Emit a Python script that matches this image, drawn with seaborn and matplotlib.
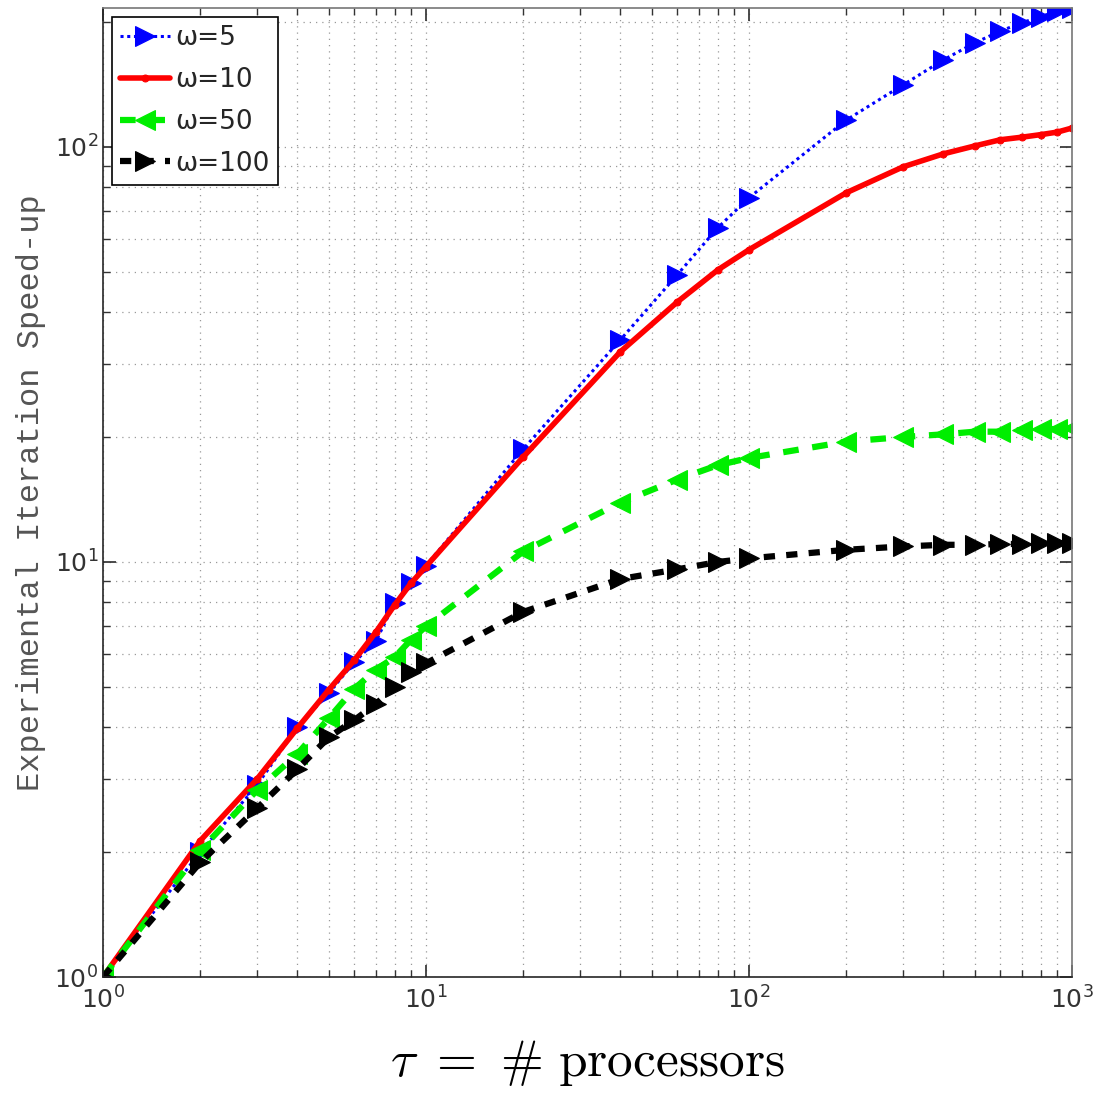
import matplotlib
matplotlib.use("Agg")
import matplotlib.pyplot as plt
import numpy as np
import seaborn as sns

# Datos (speed-up vs. número de procesadores)
tau = [1, 2, 3, 4, 5, 6, 7, 8, 9, 10, 20, 40, 60, 80, 100,
       200, 300, 400, 500, 600, 700, 800, 900, 1000]
speedup_w5 = [1, 2.0, 2.9, 4.0, 4.83, 5.74, 6.45, 7.95, 8.9, 9.8, 18.7, 34.3, 49.2, 63.8, 75.4,
              116, 141, 162, 178, 190, 199, 206, 212, 216]
speedup_w10 = [1, 2.13, 3.0, 3.98, 4.92, 5.8, 6.78, 7.88, 8.9, 9.75, 17.9, 32.1, 42.3, 50.5, 56.5,
               77.5, 89.5, 96.2, 100.5, 104, 105.5, 107, 108.5, 111]
speedup_w50 = [1, 2.02, 2.82, 3.45, 4.2, 4.95, 5.5, 5.9, 6.5, 7.0, 10.6, 13.9, 15.8, 17.1, 17.8,
               19.5, 20.0, 20.3, 20.6, 20.6, 20.8, 20.9, 20.9, 21.0]
speedup_w100 = [1, 1.89, 2.55, 3.17, 3.78, 4.16, 4.55, 5.0, 5.42, 5.7, 7.58, 9.1, 9.6, 10.0, 10.2,
                10.7, 10.9, 11.0, 11.0, 11.05, 11.05, 11.1, 11.1, 11.1]
labels = ["ω=5", "ω=10", "ω=50", "ω=100"]

sns.set_theme(style="ticks")
plt.rcParams["font.family"] = ["DejaVu Sans"]
plt.rcParams["axes.linewidth"] = 1.2

fig = plt.figure(figsize=(10.95, 10.93), dpi=100)
ax = fig.add_axes([0.094, 0.106, 0.885, 0.8867])
ax.set_xscale("log")
ax.set_yscale("log")

series = [
    (speedup_w5, dict(color="#0000ff", marker=">", linestyle=(0, (1, 1.2)), lw=2.2, ms=14)),
    (speedup_w10, dict(color="#ff0000", marker=".", linestyle="-", lw=4, ms=10)),
    (speedup_w50, dict(color="#00ee00", marker="<", linestyle=(0, (2.5, 2.2)), lw=4.5, ms=14)),
    (speedup_w100, dict(color="#000000", marker=">", linestyle=(0, (1.8, 1.8)), lw=4.5, ms=14)),
]
for (vals, kw), lab in zip(series, labels):
    sns.lineplot(x=tau, y=vals, ax=ax, label=lab, estimator=None, sort=False,
                 markeredgecolor=kw["color"], markerfacecolor=kw["color"], **kw)

ax.set_xlim(1, 1000)
ax.set_ylim(1, 216)

ax.grid(True, which="both", linestyle=(0, (1, 4)), color="#999999", lw=0.9)
ax.tick_params(which="both", direction="in", top=True, right=True,
               labelsize=18, labelcolor="#333333", color="#333333")
ax.tick_params(axis="x", which="major", pad=7)
ax.tick_params(which="major", length=9)
ax.tick_params(which="minor", length=5)
for side in ["top", "right"]:
    ax.spines[side].set_color("#777777")

ax.set_ylabel("Experimental Iteration Speed-up", family="Liberation Mono",
              fontsize=23, color="#555555", labelpad=6)
ax.set_xlabel(r"$\tau\ =\ \#\ \mathrm{processors}$", math_fontfamily="cm",
              fontsize=37, color="black", labelpad=17)

leg = ax.legend(loc="upper left", fontsize=19, handlelength=1.9, handletextpad=0.2,
                borderaxespad=0.35, labelspacing=0.6, fancybox=False, framealpha=1,
                edgecolor="black", borderpad=0.3)
leg.get_frame().set_linewidth(1.2)

fig.savefig("out.png", dpi=100)
